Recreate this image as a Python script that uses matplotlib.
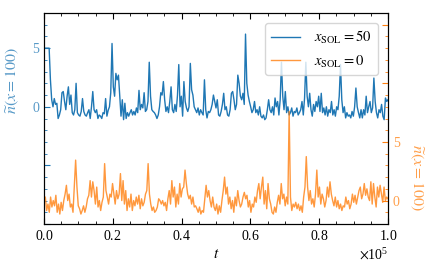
import numpy as np
import matplotlib
matplotlib.use('Agg')
import matplotlib.pyplot as plt
from matplotlib.ticker import MultipleLocator, FuncFormatter

# n(x=100) for x_SOL = 50 (left axis)
n_sol50 = [
    5.0, 5.0, 5.0, 5.0, 5.0, 2.3, 0.6, 0.0, 0.7, 0.2, 0.3, -1.0, -0.7, -0.25, 1.2, 1.3, 0.45,
    -0.25, 0.9, 1.7, 0.2, 1.0, -0.5, -0.7, -0.25, 2.0, -0.5, -0.7, -0.8, -0.4, 0.7, -0.4,
    -0.7, -0.8, -0.5, -0.25, -1.0, 0.0, 1.3, -0.25, -0.5, -0.25, -1.0, -0.7, -0.8, -1.0,
    -0.5, -0.6, 0.7, -0.8, -0.3, 0.0, 1.2, 5.4, 1.7, 0.9, 2.85, 2.3, 2.7, 0.9, -0.8, 0.6,
    -1.1, 0.3, -1.0, -0.5, -0.8, -0.5, -0.25, -0.7, -0.4, -0.7, -0.1, -0.5, 1.4, -0.25,
    0.2, -0.1, 1.2, -0.4, -0.25, 0.45, 3.8, 0.9, -0.25, -0.4, -0.5, -0.7, -1.0, -0.7, 0.0,
    1.2,
    1.0, 2.15, 0.6, -0.4, 0.0, -0.5, 0.45, 1.7, -0.25, -0.5, 0.2, -0.4, 1.0, 3.6, 0.0,
    0.9, -0.8, 2.15, 0.45, -0.1, -0.4, 0.0, 3.7, 1.45, 1.0, 0.0, -0.25, -0.5, -0.1, -0.7,
    -0.25, -0.5, -0.7, 2.3, -0.25, -0.95, -0.4, -0.5, -0.25, 0.2, 1.0, 0.45, -0.1, 0.6,
    -0.7, -0.8, -0.4, 0.2, 1.15, -0.25, 0.0, -0.7, -0.8, -0.25, 1.15, 1.3, 0.6, -0.25,
    0.2, 2.7, 2.0, 0.9, 0.6, 1.15, 0.2, 6.2, 2.0, 1.0, 0.45, 0.0, -0.5, -0.25, 0.45, -0.5,
    -0.25, -0.7, 0.0, -0.8, -0.95, -0.7, -1.1, -0.95, -0.25, 0.6, -0.25, -0.5, 0.0, -0.7,
    0.75, 0.0,
    0.45, -0.7, 0.6, 3.8, 0.9, -0.25, 1.3, -0.5, 0.0, -0.7, -0.5, -0.1, -0.8, -0.4, -0.5,
    -0.1, -0.7, -0.5, -0.25, 0.45, -0.7, 0.75, 3.8, 0.9, 0.0, 1.15, -0.25, -0.8, 0.2,
    -0.4, 0.45, 0.0, 0.9, -0.4, 1.15, -0.5, -0.1, -0.7, 0.0, -0.8, -0.25, -0.5, 0.45,
    -0.7, -0.25, -0.8, 0.0, -0.25, 0.9, 3.6, 0.6, -0.5, 0.0, -0.95, -0.5, -0.8, -0.7,
    -0.95, -0.4, -0.8, 0.0, 1.6, 0.0, -0.5, -0.95, -0.25, -0.95, -0.25, -0.7, 0.9, -0.5,
    0.0, 0.45, -0.5, -0.1, 2.45, 0.45, -0.5, -0.95, -0.25, -0.5, 0.2, -0.8, -1.1, 0.75,
    0.45, 0.6,
]

# n(x=100) for x_SOL = 0 (right axis)
n_sol0 = [
    0.0, 0.3, -0.85, -0.3, -1.0, 0.3, -0.55, 0.0, -0.45, 0.45, -1.0, -0.3, -1.15, -0.15,
    -0.85, 0.0, 0.55, 1.3, 0.0, 0.55, -0.55, -0.3, -1.0, 1.15, 3.45, 1.15, -0.45, -0.7,
    -1.15, -0.85, -0.45, -1.0, -0.55, 0.15, 0.45, 1.7, 0.3, 1.6, 0.85, -0.3, 1.15, -0.55,
    0.0, -0.85, -0.15, 0.3, 3.15, 0.85, 0.3, -0.3, 0.55, 0.3, 1.45, 0.55, -0.3, 0.85,
    0.15, 0.55, 2.3, 0.0, 1.7, -0.3, 0.85, -0.85, 0.15, -0.55, 0.55, -0.85, 0.0, -0.45,
    0.3, -0.3, 0.45, -0.7, 0.15, -0.45, -0.15, 0.55, 0.85, 3.15, 0.55, -0.3, -0.85,
    -0.55, -1.0, -0.85, -0.55, 0.15, 0.0,
    -0.3, 0.0, -0.45, -0.15, -0.85, 0.15, 0.85, -0.3, 1.7, 0.3, 1.15, -0.55, 0.55, -0.3,
    1.45, 0.3, 1.0, 1.15, 2.6, 1.45, 0.55, 0.15, 0.45, -0.3, 0.3, -0.55, -0.45, -0.7,
    -1.0, -0.55, -1.15, -0.85, -1.0, 0.15, 1.3, 0.3, 0.85, 0.0, -0.55, 0.3, -0.55, -0.85,
    -0.3, -1.15, -0.45, -1.0, 0.0, 0.85, 2.0, 0.55, 1.15, -0.3, 0.3, -0.7, 0.0, -1.0,
    0.3, -0.45, 0.85, 0.0, -0.55, -0.3, 0.3, 0.7, 0.15, 0.45, -0.55, 0.0, -1.0, -0.3,
    -0.55, 0.3, -0.15, 0.85, 1.45, 0.15, 1.15, 2.0, -0.3, 0.85, -0.7, 1.45, 0.15, -0.3,
    -1.0, -1.15, -0.55, -1.0,
    -0.15, 0.45, -0.3, 1.45, 0.15, 0.55, -0.45, 0.3, -0.3, 7.6, 0.3, -0.85, -0.3, -0.55,
    -0.15, -0.7, -0.3, -0.85, -0.45, -1.0, 0.3, 1.15, 3.75, 1.15, 0.0, 0.85, -0.3, 0.15,
    -0.55, 0.55, 2.6, 0.3, 1.15, -0.3, 0.55, 0.15, -0.55, 0.0, 1.15, 0.3, 1.6, 0.55, 0.0,
    -0.45, 0.3, -0.55, 0.0, -0.7, -0.3, -0.85, -0.45, -0.55, 0.3, -0.3, 0.0, -0.7, -0.3,
    0.55, -0.15, 0.45, -0.3, 0.3, 0.85, 1.15, 0.15, 0.55, 1.45, 0.45, 1.0, 0.3, 0.0, 1.6,
    -0.3, 1.45, 0.3, -0.55, 1.15, 0.3, 1.3, 0.55, -0.15, 1.15, 0.0, 0.3, 0.15,
]

plt.rcParams['font.family'] = ['Liberation Serif']
plt.rcParams['mathtext.fontset'] = 'stix'
plt.rcParams['font.size'] = 10

blue = '#1f77b4'
orange = '#ff7f0e'
blue_txt = '#5799c7'
orange_txt = '#ff9f4a'


def main():
    t50 = np.linspace(0, 1e5, len(n_sol50))
    t0 = np.linspace(0, 1e5, len(n_sol0))

    fig = plt.figure(figsize=(4.35, 2.77), dpi=100)
    ax1 = fig.add_axes([44 / 435, 53 / 277, 344 / 435, 211 / 277])
    ax2 = ax1.twinx()

    l1, = ax1.plot(t50, n_sol50, color=blue, lw=1.0, label=r'$x_{\rm SOL}=50$')
    l2, = ax2.plot(t0, n_sol0, color=orange, lw=1.0, alpha=0.8, label=r'$x_{\rm SOL}=0$')

    ax1.set_xlim(0, 1e5)
    ax1.set_ylim(-10, 8)
    ax2.set_ylim(-2, 16)

    ax1.xaxis.set_major_locator(MultipleLocator(0.2e5))
    ax1.xaxis.set_minor_locator(MultipleLocator(0.05e5))
    ax1.ticklabel_format(axis='x', style='sci', scilimits=(0, 0), useMathText=True)

    ax1.yaxis.set_major_locator(MultipleLocator(5))
    ax1.yaxis.set_minor_locator(MultipleLocator(1))
    ax1.yaxis.set_major_formatter(FuncFormatter(lambda v, p: '%d' % v if v >= 0 else ''))
    ax2.yaxis.set_major_locator(MultipleLocator(5))
    ax2.yaxis.set_minor_locator(MultipleLocator(1))
    ax2.yaxis.set_major_formatter(FuncFormatter(lambda v, p: '%d' % v if v <= 5 else ''))

    ax1.tick_params(axis='x', which='both', direction='in', top=True)
    ax1.tick_params(axis='x', which='major', length=4)
    ax1.tick_params(axis='x', which='minor', length=2)
    ax1.tick_params(axis='y', which='both', direction='in', colors=blue, labelcolor=blue_txt)
    ax1.tick_params(axis='y', which='major', length=4)
    ax1.tick_params(axis='y', which='minor', length=2)
    ax2.tick_params(axis='y', which='both', direction='in', colors=orange, labelcolor=orange_txt)
    ax2.tick_params(axis='y', which='major', length=4)
    ax2.tick_params(axis='y', which='minor', length=2)

    ax1.set_xlabel(r'$t$', fontsize=11)
    ax1.set_ylabel(r'$\widetilde{n}(x=100)$', color=blue_txt, fontsize=11.5)
    ax1.yaxis.set_label_coords(-0.067, 0.68)
    ax2.set_ylabel(r'$\widetilde{n}(x=100)$', color=orange_txt, fontsize=11.5, rotation=270)
    ax2.yaxis.set_label_coords(1.11, 0.22)

    ax2.legend(handles=[l1, l2], loc='upper right', fontsize=10.5, borderaxespad=0.7,
               handletextpad=1.0)

    fig.savefig('out.png', dpi=100)


if __name__ == '__main__':
    main()
